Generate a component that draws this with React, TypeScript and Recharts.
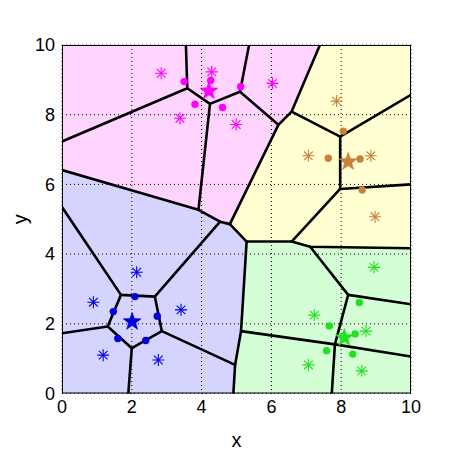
import React from 'react';
import { ComposedChart, Scatter, XAxis, YAxis, CartesianGrid } from 'recharts';

type Pt = { x: number; y: number };
const toPts = (a: number[][]): Pt[] => a.map(([x, y]) => ({ x, y }));

const axisTicks = [0, 2, 4, 6, 8, 10];
const FONT = 'Arial, "Liberation Sans", Helvetica, sans-serif';

// coloured regions (cluster territories)
const pinkRegion = [[0, 10], [7.39, 10], [6.58, 8.09], [6.2, 7.71], [4.81, 4.86], [4.53, 4.93], [3.91, 5.27], [0, 6.41]];
const yellowRegion = [[7.39, 10], [10, 10], [10, 4.17], [7.11, 4.21], [6.58, 4.36], [5.29, 4.36], [4.81, 4.86], [6.2, 7.71], [6.58, 8.09]];
const blueRegion = [[0, 6.41], [3.91, 5.27], [4.53, 4.93], [4.81, 4.86], [5.29, 4.36], [5.13, 1.79], [4.96, 0.82], [4.91, 0], [0, 0]];
const greenRegion = [[5.29, 4.36], [6.58, 4.36], [7.11, 4.21], [10, 4.17], [10, 0], [4.91, 0], [4.96, 0.82], [5.13, 1.79]];

// Voronoi edges (polylines)
const edgeChains: number[][][] = [
  [[3.55, 10], [3.59, 8.76], [0, 7.23]],
  [[3.59, 8.76], [4.24, 8.31], [5.1, 8.66], [5.36, 10]],
  [[5.1, 8.66], [6.2, 7.71], [4.81, 4.86], [4.53, 4.93], [3.91, 5.27], [0, 6.41]],
  [[3.91, 5.27], [4.24, 8.31]],
  [[7.39, 10], [6.58, 8.09], [6.2, 7.71]],
  [[6.58, 8.09], [7.97, 7.37], [10, 8.57]],
  [[7.97, 7.37], [7.97, 5.87], [10, 6.0]],
  [[7.97, 5.87], [6.58, 4.36], [7.11, 4.21], [10, 4.17]],
  [[6.58, 4.36], [5.29, 4.36], [4.81, 4.86]],
  [[7.11, 4.21], [8.2, 2.83], [10, 2.56]],
  [[5.29, 4.36], [5.13, 1.79], [4.96, 0.82], [4.91, 0]],
  [[5.13, 1.79], [7.82, 1.41], [10, 1.06]],
  [[8.2, 2.83], [7.82, 1.41], [7.73, 0]],
  [[4.53, 4.93], [2.66, 2.78], [2.86, 1.79], [4.96, 0.82]],
  [[0, 5.35], [1.69, 2.83], [2.66, 2.78]],
  [[1.69, 2.83], [1.31, 1.92], [2.0, 1.3], [2.86, 1.79]],
  [[1.31, 1.92], [0, 1.73]],
  [[2.0, 1.3], [1.9, 0]],
];

const frameBox = [[0, 0], [10, 0], [10, 10], [0, 10], [0, 0]];

// markers
const pinkStar = [[4.21, 8.68]];
const pinkDots = [[3.5, 8.95], [4.26, 8.98], [3.81, 8.3], [4.6, 8.21], [5.12, 8.8]];
const pinkStars6 = [[2.84, 9.19], [4.29, 9.23], [3.38, 7.9], [4.99, 7.72], [6.03, 8.9]];

const brownStar = [[8.2, 6.65]];
const brownDots = [[8.06, 7.53], [7.63, 6.75], [8.54, 6.73], [8.6, 5.84]];
const brownStars6 = [[7.87, 8.39], [7.06, 6.82], [8.85, 6.82], [8.97, 5.07]];

const blueStar = [[2.01, 2.06]];
const blueDots = [[2.09, 2.78], [1.47, 2.35], [2.73, 2.22], [1.6, 1.58], [2.4, 1.52]];
const blueStars6 = [[2.14, 3.48], [0.9, 2.62], [3.41, 2.4], [1.18, 1.1], [2.76, 0.96]];

const greenStar = [[8.09, 1.6]];
const greenDots = [[8.52, 2.61], [7.66, 1.94], [8.4, 1.71], [7.58, 1.23], [8.33, 1.13]];
const greenStars6 = [[8.94, 3.62], [7.23, 2.25], [8.71, 1.79], [7.06, 0.82], [8.59, 0.65]];

const EmptyShape = () => <g />;

const polygonLine = (fill: string) => (props: any) => {
  const p = (props.points || []) as { x: number; y: number }[];
  const d = p.map((q, i) => `${i ? 'L' : 'M'}${q.x},${q.y}`).join('') + 'Z';
  return <path d={d} fill={fill} stroke="none" />;
};

const starShape = (color: string) => (props: any) => {
  const { cx, cy } = props;
  const R = 9.5;
  const r = 3.9;
  const pts: string[] = [];
  for (let k = 0; k < 10; k++) {
    const a = (-90 + k * 36) * (Math.PI / 180);
    const rad = k % 2 === 0 ? R : r;
    pts.push(`${cx + rad * Math.cos(a)},${cy + rad * Math.sin(a)}`);
  }
  return <polygon points={pts.join(' ')} fill={color} stroke={color} strokeWidth={0.5} />;
};

const dotShape = (color: string) => (props: any) => (
  <circle cx={props.cx} cy={props.cy} r={3.7} fill={color} />
);

const asteriskShape = (color: string) => (props: any) => {
  const { cx, cy } = props;
  const s = 6;
  const d = s * 0.72;
  return (
    <g stroke={color} strokeWidth={1.1}>
      <line x1={cx - s} y1={cy} x2={cx + s} y2={cy} />
      <line x1={cx} y1={cy - s} x2={cx} y2={cy + s} />
      <line x1={cx - d} y1={cy - d} x2={cx + d} y2={cy + d} />
      <line x1={cx - d} y1={cy + d} x2={cx + d} y2={cy - d} />
    </g>
  );
};

const clusters = [
  { name: 'pink', color: '#ff00ff', star: pinkStar, dots: pinkDots, stars6: pinkStars6 },
  { name: 'brown', color: '#c8823c', star: brownStar, dots: brownDots, stars6: brownStars6 },
  { name: 'blue', color: '#0000dd', star: blueStar, dots: blueDots, stars6: blueStars6 },
  { name: 'green', color: '#22e022', star: greenStar, dots: greenDots, stars6: greenStars6 },
];

const regions = [
  { name: 'pinkR', fill: '#ffd4ff', data: pinkRegion },
  { name: 'yellowR', fill: '#ffffd2', data: yellowRegion },
  { name: 'blueR', fill: '#d4d4ff', data: blueRegion },
  { name: 'greenR', fill: '#d4ffd4', data: greenRegion },
];

export default function App() {
  return (
    <ComposedChart
      width={440}
      height={446}
      margin={{ top: 37, right: 37, bottom: 2.5, left: 0 }}
    >
      <XAxis
        type="number"
        dataKey="x"
        domain={[0, 10]}
        ticks={axisTicks}
        allowDataOverflow
        axisLine={false}
        tickLine={false}
        tickSize={0}
        tickMargin={6.5}
        height={58}
        tick={{ fill: '#000', fontSize: 18, fontFamily: FONT }}
        label={{ value: 'x', position: 'insideBottom', offset: 5, fill: '#000', fontSize: 20, fontFamily: FONT }}
      />
      <YAxis
        type="number"
        dataKey="y"
        domain={[0, 10]}
        ticks={axisTicks}
        allowDataOverflow
        axisLine={false}
        tickLine={false}
        tickSize={0}
        tickMargin={7}
        width={54}
        tick={{ fill: '#000', fontSize: 18, fontFamily: FONT }}
        label={{ value: 'y', angle: -90, position: 'insideLeft', offset: 12, fill: '#000', fontSize: 20, fontFamily: FONT, style: { textAnchor: 'middle' } }}
      />
      {regions.map((r) => (
        <Scatter
          key={r.name}
          name={r.name}
          data={toPts(r.data)}
          shape={EmptyShape}
          line={polygonLine(r.fill)}
          isAnimationActive={false}
          zIndex={100}
        />
      ))}
      <CartesianGrid stroke="#000" strokeDasharray="1 3" strokeWidth={1} zIndex={200} />
      {edgeChains.map((c, i) => (
        <Scatter
          key={'e' + i}
          data={toPts(c)}
          shape={EmptyShape}
          line={{ stroke: '#000', strokeWidth: 2.6, strokeLinejoin: 'round', strokeLinecap: 'round' }}
          isAnimationActive={false}
          zIndex={300}
        />
      ))}
      <Scatter
        data={toPts(frameBox)}
        shape={EmptyShape}
        line={{ stroke: '#000', strokeWidth: 2 }}
        isAnimationActive={false}
        zIndex={300}
      />
      {clusters.map((c) => (
        <Scatter key={c.name + 'd'} data={toPts(c.dots)} shape={dotShape(c.color)} isAnimationActive={false} zIndex={400} />
      ))}
      {clusters.map((c) => (
        <Scatter key={c.name + 'a'} data={toPts(c.stars6)} shape={asteriskShape(c.color)} isAnimationActive={false} zIndex={400} />
      ))}
      {clusters.map((c) => (
        <Scatter key={c.name + 's'} data={toPts(c.star)} shape={starShape(c.color)} isAnimationActive={false} zIndex={400} />
      ))}
    </ComposedChart>
  );
}
